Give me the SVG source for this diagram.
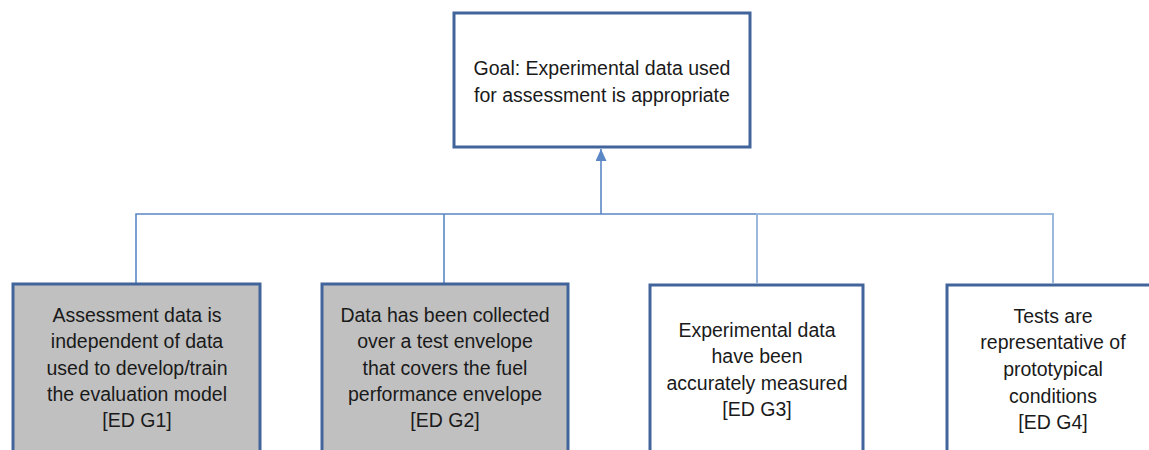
<svg xmlns="http://www.w3.org/2000/svg" width="1149" height="450" viewBox="0 0 1149 450">
<style>
.box{fill:#ffffff;stroke:#41649a;stroke-width:3}
.gray{fill:#c0c0c0}
.t{font-family:"Liberation Sans",Arial,sans-serif;font-size:19.5px;fill:#1a1a1a;text-anchor:middle}
.c{fill:none;stroke:#5b87c5;stroke-width:1.6}
.c2{fill:none;stroke:#9ab7dc;stroke-width:2}
</style>
<defs>
<marker id="ah" markerWidth="12" markerHeight="11" refX="12" refY="5.5" orient="auto" markerUnits="userSpaceOnUse" viewBox="0 0 12 11">
<path d="M0,0 L12,5.5 L0,11 Z" fill="#5b87c5"/>
</marker>
</defs>
<g id="connectors">
<path class="c" d="M601,214 V149" marker-end="url(#ah)"/>
<path class="c" d="M136,283 V214 H757"/>
<path class="c" d="M444,214 V283"/>
<path class="c2" d="M757,283 V214 H1053 V283"/>
</g>
<g id="goal">
<rect class="box" x="454" y="13" width="296" height="134"/>
<text class="t" x="602" y="75">Goal: Experimental data used</text>
<text class="t" x="602" y="102">for assessment is appropriate</text>
</g>
<g id="edg1">
<rect class="box gray" x="13" y="284" width="247" height="180"/>
<text class="t" x="137" y="322">Assessment data is</text>
<text class="t" x="137" y="348">independent  of data</text>
<text class="t" x="137" y="375">used to develop/train</text>
<text class="t" x="137" y="401">the evaluation model</text>
<text class="t" x="137" y="427">[ED G1]</text>
</g>
<g id="edg2">
<rect class="box gray" x="322" y="284" width="246" height="180"/>
<text class="t" x="445" y="322">Data has been collected</text>
<text class="t" x="445" y="348">over  a test envelope</text>
<text class="t" x="445" y="375">that covers the fuel</text>
<text class="t" x="445" y="401">performance  envelope</text>
<text class="t" x="445" y="427">[ED G2]</text>
</g>
<g id="edg3">
<rect class="box" x="650" y="285" width="213" height="180"/>
<text class="t" x="757" y="337">Experimental data</text>
<text class="t" x="757" y="363">have been</text>
<text class="t" x="757" y="390">accurately measured</text>
<text class="t" x="757" y="416">[ED G3]</text>
</g>
<g id="edg4">
<rect class="box" x="947" y="285" width="210" height="180"/>
<text class="t" x="1053" y="323">Tests are</text>
<text class="t" x="1053" y="349">representative of</text>
<text class="t" x="1053" y="376">prototypical</text>
<text class="t" x="1053" y="403">conditions</text>
<text class="t" x="1053" y="429">[ED G4]</text>
</g>
</svg>
